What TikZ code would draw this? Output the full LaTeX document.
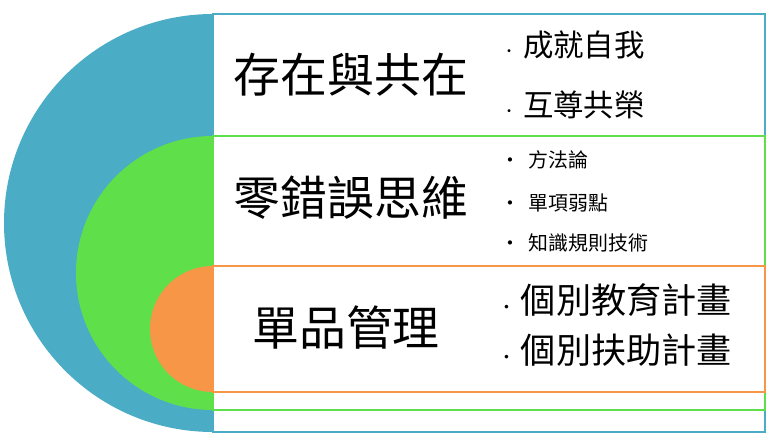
\documentclass[tikz,border=0pt]{standalone}
\usepackage{fontspec}
\setmainfont{Noto Sans CJK TC}
\definecolor{blueband}{HTML}{4BACC6}
\definecolor{greenband}{HTML}{5FE04B}
\definecolor{orangeband}{HTML}{F79646}
\tikzset{
  title/.style={font=\fontsize{40}{44}\selectfont},
  item/.style={anchor=west,font=\fontsize{#1}{#1}\selectfont},
}
\begin{document}
\begin{tikzpicture}[x=0.03cm,y=0.03cm]
\useasboundingbox (0,0) rectangle (770,437);
% blue layer
\path[fill=blueband] (213,423) arc (90:270:209) -- cycle;
\draw[blueband,line width=1.2pt,fill=white] (213,5) rectangle (765,423);
% green layer
\path[fill=greenband] (213,301) arc (90:270:137) -- cycle;
\draw[greenband,line width=1.2pt,fill=white] (213,27) rectangle (765,301);
% orange layer
\path[fill=orangeband] (213,171) arc (90:270:63) -- cycle;
\draw[orangeband,line width=1.2pt,fill=white] (213,45) rectangle (765,171);

\node[title] (t1) at (351,362) {存在與共在};
\node[item=26] (a1) at (498,392) {{\large\textbullet}\ 成就自我};
\node[item=26] (a2) at (498,332) {{\large\textbullet}\ 互尊共榮};

\node[title] (t2) at (351,239) {零錯誤思維};
\node[item=17] (b1) at (496,277) {\textbullet\ \ 方法論};
\node[item=17] (b2) at (496,234) {\textbullet\ \ 單項弱點};
\node[item=17] (b3) at (496,194) {\textbullet\ \ 知識規則技術};

\node[title] (t3) at (346,109) {單品管理};
\node[item=30] (c1) at (494,137) {{\Large\textbullet}\,個別教育計畫};
\node[item=30] (c2) at (494,87) {{\Large\textbullet}\,個別扶助計畫};
\end{tikzpicture}
\end{document}
